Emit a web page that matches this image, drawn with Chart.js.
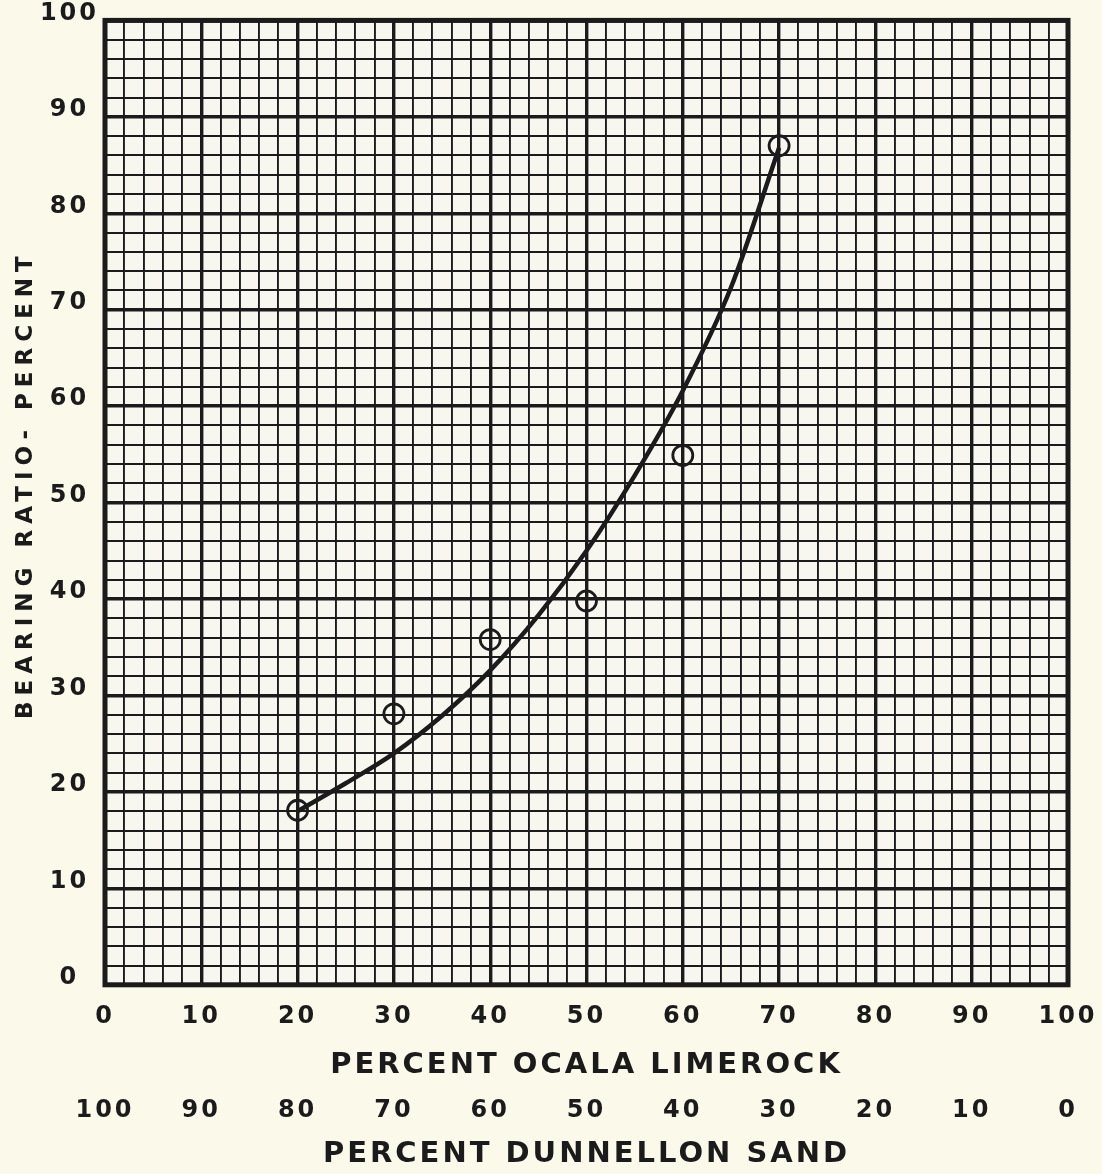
<!DOCTYPE html>
<html>
<head>
<meta charset="utf-8">
<script src="https://cdn.jsdelivr.net/npm/chart.js@4/dist/chart.umd.min.js"></script>
<style>
  html, body { margin: 0; padding: 0; background: #fbf9e9; }
  #wrap { width: 1102px; height: 1174px; position: relative; }
</style>
</head>
<body>
<div id="wrap"><canvas id="c" width="1102" height="1174"></canvas></div>
<script>
// ---- data ----
const limerockPct = [20, 30, 40, 50, 60, 70];             // measured points, % Ocala limerock
const bearingRatio = [18.1, 28.1, 35.8, 39.8, 54.9, 87.0]; // bearing ratio, %
const curveLimerock = [20, 25, 30, 35, 40, 45, 50, 55, 60, 65, 70];
const curveBearing = [18.0, 20.9, 24.0, 27.9, 32.6, 38.3, 45.0, 52.8, 61.6, 72.3, 86.8];
const limerockTicks = [0, 10, 20, 30, 40, 50, 60, 70, 80, 90, 100];
const sandTicks = [100, 90, 80, 70, 60, 50, 40, 30, 20, 10, 0];
const bearingTicks = [0, 10, 20, 30, 40, 50, 60, 70, 80, 90, 100];

const xTitle = 'PERCENT OCALA LIMEROCK';
const x2Title = 'PERCENT DUNNELLON SAND';
const yTitle = 'BEARING RATIO- PERCENT';

const INK = '#1b1b1b';
const FONT = "'DejaVu Sans', 'Liberation Sans', sans-serif";

const isMajor = v => Math.round(v) % 10 === 0;
const gridWidth = ctx => (ctx.tick && isMajor(ctx.tick.value)) ? 3.4 : 1.9;

const spacingPlugin = {
  id: 'spacing',
  beforeLayout(chart) { chart.ctx.letterSpacing = '3px'; },
  beforeDraw(chart) {
    const ctx = chart.ctx;
    ctx.letterSpacing = '3px';
    const a = chart.chartArea;
    ctx.save();
    ctx.fillStyle = '#f7f6ef';
    ctx.fillRect(a.left, a.top, a.right - a.left, a.bottom - a.top);
    ctx.restore();
  },
  afterDraw(chart) {
    const ctx = chart.ctx;
    const a = chart.chartArea;
    ctx.save();
    ctx.strokeStyle = INK;
    ctx.lineWidth = 5;
    ctx.strokeRect(a.left, a.top, a.right - a.left, a.bottom - a.top);
    // y axis title
    ctx.translate(26, (a.top + a.bottom) / 2 - 18);
    ctx.rotate(-Math.PI / 2);
    ctx.letterSpacing = '6px';
    ctx.font = 'bold 23px ' + FONT;
    ctx.fillStyle = INK;
    ctx.textAlign = 'center';
    ctx.textBaseline = 'middle';
    ctx.fillText(yTitle, 0, 0);
    ctx.restore();
  }
};

new Chart(document.getElementById('c'), {
  type: 'scatter',
  data: {
    datasets: [
      {
        type: 'line',
        data: curveLimerock.map((x, i) => ({ x, y: curveBearing[i] })),
        borderColor: INK,
        borderWidth: 4.5,
        pointRadius: 0,
        cubicInterpolationMode: 'monotone',
        fill: false,
        xAxisID: 'x', yAxisID: 'y'
      },
      {
        data: limerockPct.map((x, i) => ({ x, y: bearingRatio[i] })),
        showLine: false,
        pointStyle: 'circle',
        pointRadius: 10,
        pointBorderWidth: 2.8,
        pointBorderColor: INK,
        pointBackgroundColor: 'rgba(0,0,0,0)',
        xAxisID: 'x', yAxisID: 'y'
      }
    ]
  },
  options: {
    responsive: false,
    animation: false,
    events: [],
    layout: { padding: { left: 5, right: 34, top: 20, bottom: 0 } },
    plugins: { legend: { display: false }, tooltip: { enabled: false } },
    scales: {
      x: {
        type: 'linear', position: 'bottom', weight: 0,
        min: 0, max: 100,
        afterFit: s => { s.paddingRight = 0; },
        ticks: {
          stepSize: 2, autoSkip: false, maxRotation: 0, padding: 18,
          color: INK, font: { family: FONT, size: 24, weight: 'bold' },
          callback: v => limerockTicks.includes(Math.round(v)) && isMajor(v) ? String(Math.round(v)) : ''
        },
        grid: { color: INK, lineWidth: gridWidth, drawTicks: false },
        border: { display: false },
        title: {
          display: true, text: xTitle, color: INK,
          font: { family: FONT, size: 29, weight: 'bold' },
          padding: { top: -2, bottom: 7 }
        }
      },
      x2: {
        type: 'linear', position: 'bottom', weight: 1,
        min: 0, max: 100, reverse: true,
        afterFit: s => { s.paddingRight = 0; },
        ticks: {
          stepSize: 10, autoSkip: false, maxRotation: 0, padding: 7,
          color: INK, font: { family: FONT, size: 24, weight: 'bold' },
          callback: v => sandTicks.includes(Math.round(v)) ? String(Math.round(v)) : ''
        },
        grid: { display: false, drawTicks: false },
        border: { display: false },
        title: {
          display: true, text: x2Title, color: INK,
          font: { family: FONT, size: 29, weight: 'bold' },
          padding: { top: 5, bottom: 2 }
        }
      },
      y: {
        type: 'linear', position: 'left',
        min: 0, max: 100,
        afterFit: s => { s.width = 100; },
        ticks: {
          stepSize: 2, autoSkip: false, padding: 6, crossAlign: 'center', labelOffset: -7,
          color: INK, font: { family: FONT, size: 24, weight: 'bold' },
          callback: v => bearingTicks.includes(Math.round(v)) && isMajor(v) ? String(Math.round(v)) : ''
        },
        grid: { color: INK, lineWidth: gridWidth, drawTicks: false },
        border: { display: false },
        title: { display: false }
      }
    }
  },
  plugins: [spacingPlugin]
});
</script>
</body>
</html>
